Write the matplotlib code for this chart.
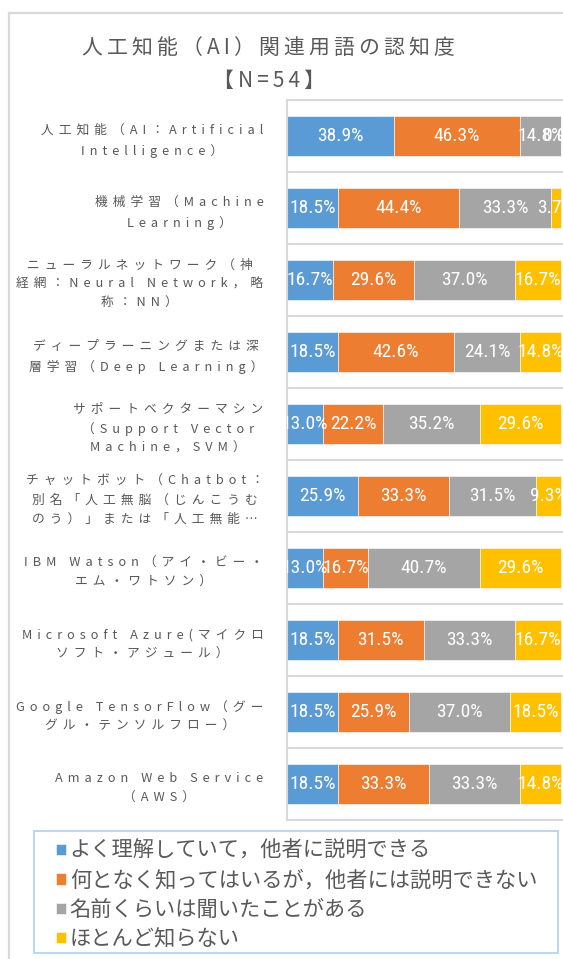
import numpy as np
import matplotlib
matplotlib.use("Agg")
import matplotlib.pyplot as plt
from matplotlib.patches import Rectangle
from matplotlib.lines import Line2D

plt.rcParams['font.family'] = ['Noto Sans CJK JP', 'DejaVu Sans']

# ---------------- data ----------------
title_line1 = "人工知能（AI）関連用語の認知度"
title_line2 = "【N=54】"

categories = [
    "人工知能（AI：Artificial\nIntelligence）",
    "機械学習（Machine\nLearning）",
    "ニューラルネットワーク（神\n経網：Neural Network，略\n称：NN）",
    "ディープラーニングまたは深\n層学習（Deep Learning）",
    "サポートベクターマシン\n（Support Vector\nMachine，SVM）",
    "チャットボット（Chatbot：\n別名「人工無脳（じんこうむ\nのう）」または「人工無能…",
    "IBM Watson（アイ・ビー・\nエム・ワトソン）",
    "Microsoft Azure(マイクロ\nソフト・アジュール）",
    "Google TensorFlow（グー\nグル・テンソルフロー）",
    "Amazon Web Service\n（AWS）",
]

series_names = [
    "よく理解していて，他者に説明できる",
    "何となく知ってはいるが，他者には説明できない",
    "名前くらいは聞いたことがある",
    "ほとんど知らない",
]

understand_well = [38.9, 18.5, 16.7, 18.5, 13.0, 25.9, 13.0, 18.5, 18.5, 18.5]
know_somewhat   = [46.3, 44.4, 29.6, 42.6, 22.2, 33.3, 16.7, 31.5, 25.9, 33.3]
heard_name      = [14.8, 33.3, 37.0, 24.1, 35.2, 31.5, 40.7, 33.3, 37.0, 33.3]
hardly_know     = [0.0, 3.7, 16.7, 14.8, 29.6, 9.3, 29.6, 16.7, 18.5, 14.8]

colors = ["#5B9BD5", "#ED7D31", "#A5A5A5", "#FFC000"]

# ---------------- helpers ----------------
W, H = 563, 959
TXT = "#595959"
GRID = "#D9D9D9"


def fx(px):
    return px / W


def fy(py):
    return 1 - py / H


def spaced(s, n):
    sp = "\u2009" * n
    return "\n".join(sp.join(list(line)) for line in s.split("\n"))


# ---------------- figure ----------------
fig = plt.figure(figsize=(W / 100, H / 100), dpi=100)

# outer chart frame (left + top edges visible)
fig.add_artist(Line2D([fx(9), fx(9)], [fy(13), fy(962)], transform=fig.transFigure,
                      color=GRID, lw=1.6))
fig.add_artist(Line2D([fx(9), fx(570)], [fy(13), fy(13)], transform=fig.transFigure,
                      color=GRID, lw=1.6))

ax_left, ax_top, ax_bottom = 287, 100, 820
px_per_unit = 274 / 100
xmax = 105
ax = fig.add_axes([fx(ax_left), fy(ax_bottom), (xmax * px_per_unit) / W,
                   (ax_bottom - ax_top) / H])

n = len(categories)
y = np.arange(n)
all_series = [understand_well, know_somewhat, heard_name, hardly_know]
left = np.zeros(n)
containers = []
for vals, col, name in zip(all_series, colors, series_names):
    vals = np.array(vals)
    bc = ax.barh(y, vals, left=left, height=0.555, color=col, edgecolor="white",
                 linewidth=0.4, label=name)
    containers.append(bc)
    for yi, (l, v) in enumerate(zip(left, vals)):
        ax.text(l + v / 2, yi, f"{v:.1f}%", ha="center", va="center", color="white",
                fontsize=14,
                family=["Liberation Sans Narrow", "Roboto Condensed",
                        "DejaVu Sans Condensed", "DejaVu Sans"],
                clip_on=True)
    left = left + vals

ax.set_xlim(0, xmax)
ax.set_ylim(n - 0.5, -0.5)
ax.set_xticks([])
ax.set_yticks(y)
ax.set_yticklabels([spaced(c, 2) for c in categories], fontsize=9.2, color=TXT,
                   multialignment="center", linespacing=1.6)
ax.tick_params(axis="y", length=0, pad=17)
ax.set_yticks(np.arange(n + 1) - 0.5, minor=True)
ax.tick_params(axis="y", which="minor", length=0)
ax.grid(which="minor", axis="y", color=GRID, lw=1.5)
ax.set_axisbelow(True)
for s in ["top", "bottom", "left"]:
    ax.spines[s].set_color(GRID)
    ax.spines[s].set_linewidth(1.5)
ax.spines["right"].set_visible(False)

# title
fig.text(fx(268), fy(48), spaced(title_line1, 1), ha="center", va="center",
         fontsize=15, color=TXT)
fig.text(fx(269), fy(81), spaced(title_line2, 1), ha="center", va="center",
         fontsize=15, color=TXT)

# legend
fig.add_artist(Rectangle((fx(34), fy(953)), (558 - 34) / W, (953 - 831) / H,
                         transform=fig.transFigure, fill=False, ec="#BDD7EE", lw=1.5))
fig.legend(containers, series_names, loc="upper left",
           bbox_to_anchor=(fx(56), fy(840)), frameon=False,
           handlelength=0.45, handleheight=0.45, handletextpad=0.2,
           labelspacing=0.35, borderpad=0, borderaxespad=0,
           prop={"size": 15.3}, labelcolor=TXT)

fig.savefig("out.png", dpi=100)
